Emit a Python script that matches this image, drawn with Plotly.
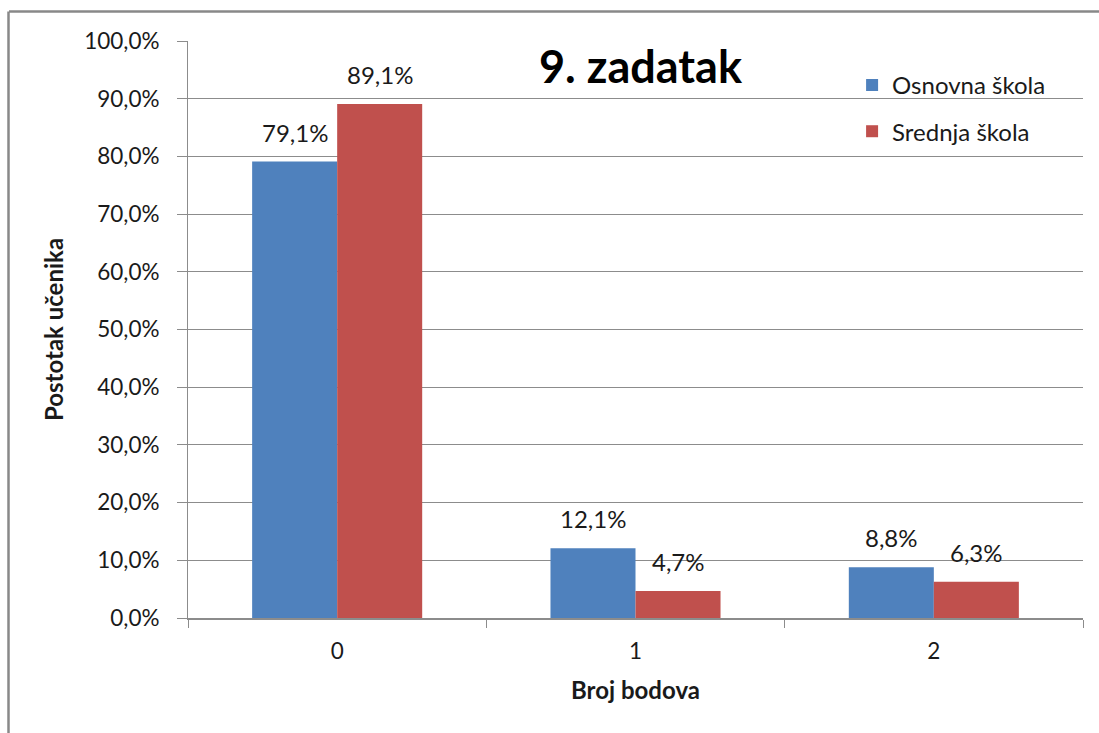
import plotly.graph_objects as go

# Score categories and share of students per school type
categories = ["0", "1", "2"]
osnovna = [0.791, 0.121, 0.088]
srednja = [0.891, 0.047, 0.063]
y_ticks = [i / 10 for i in range(11)]

FONT = "Lato"
BLUE = "#4F81BD"
RED = "#C0504D"
GRID = "#8C8C8C"
TXT = "#1a1a1a"
BARGAP = 0.43

fig = go.Figure()
fig.add_trace(go.Bar(x=categories, y=osnovna, name="Osnovna škola",
                     marker=dict(color=BLUE, line=dict(width=0)), legendgroup="a"))
fig.add_trace(go.Bar(x=categories, y=srednja, name="Srednja škola",
                     marker=dict(color=RED, line=dict(width=0)), legendgroup="b"))

# Value labels above each bar (bar centres sit at +/- a quarter of the group width)
half = (1 - BARGAP) / 4
labels = []
for series, dx in ((osnovna, -half), (srednja, half)):
    for i, v in enumerate(series):
        labels.append(dict(
            x=i + dx, y=v, xref="x", yref="y", text=f"{v * 100:.1f}%".replace(".", ","),
            showarrow=False, xanchor="center", yanchor="bottom", yshift=13,
            font=dict(size=24, family=FONT, color=TXT),
        ))

labels.append(dict(
    text="<b>9. zadatak</b>", x=0.506, y=0.957, xref="paper", yref="paper",
    xanchor="center", yanchor="middle", showarrow=False,
    font=dict(size=45, family=FONT, color="black"),
))

fig.update_layout(
    width=1099, height=733,
    separators=",.",
    barmode="group", bargap=BARGAP, bargroupgap=0,
    plot_bgcolor="white", paper_bgcolor="white",
    margin=dict(l=188, r=16, t=41, b=115, autoexpand=False),
    font=dict(family=FONT, size=22, color=TXT),
    legend=dict(
        x=0.742, y=0.962, xanchor="left", yanchor="top",
        font=dict(size=24, family=FONT, color=TXT), tracegroupgap=12,
        bgcolor="rgba(0,0,0,0)", itemwidth=30,
    ),
    annotations=labels,
    shapes=[
        dict(type="line", xref="paper", yref="paper",
             x0=-179 / 895, x1=911 / 895, y0=1 + 29.5 / 577, y1=1 + 29.5 / 577,
             line=dict(color="#888888", width=2.5)),
        dict(type="line", xref="paper", yref="paper",
             x0=-179.5 / 895, x1=-179.5 / 895, y0=-120 / 577, y1=1 + 29.5 / 577,
             line=dict(color="#888888", width=2.5)),
    ],
)

fig.update_yaxes(
    range=[0, 1], tickvals=y_ticks, tickformat=".1%",
    showgrid=True, gridcolor=GRID, gridwidth=1,
    showline=True, linecolor=GRID, linewidth=1,
    ticks="outside", ticklen=10, tickcolor=GRID, ticklabelstandoff=13,
    tickfont=dict(size=22.5), zeroline=False,
    title=dict(text="<b>Postotak učenika</b>", font=dict(size=24), standoff=13),
)
fig.update_xaxes(
    showline=True, linecolor=GRID, linewidth=1.5,
    ticks="outside", ticklen=8, tickcolor=GRID, tickson="boundaries",
    ticklabelstandoff=12, tickfont=dict(size=22.5),
    title=dict(text="<b>Broj bodova</b>", font=dict(size=24), standoff=19),
)

fig.write_html("out.html")
